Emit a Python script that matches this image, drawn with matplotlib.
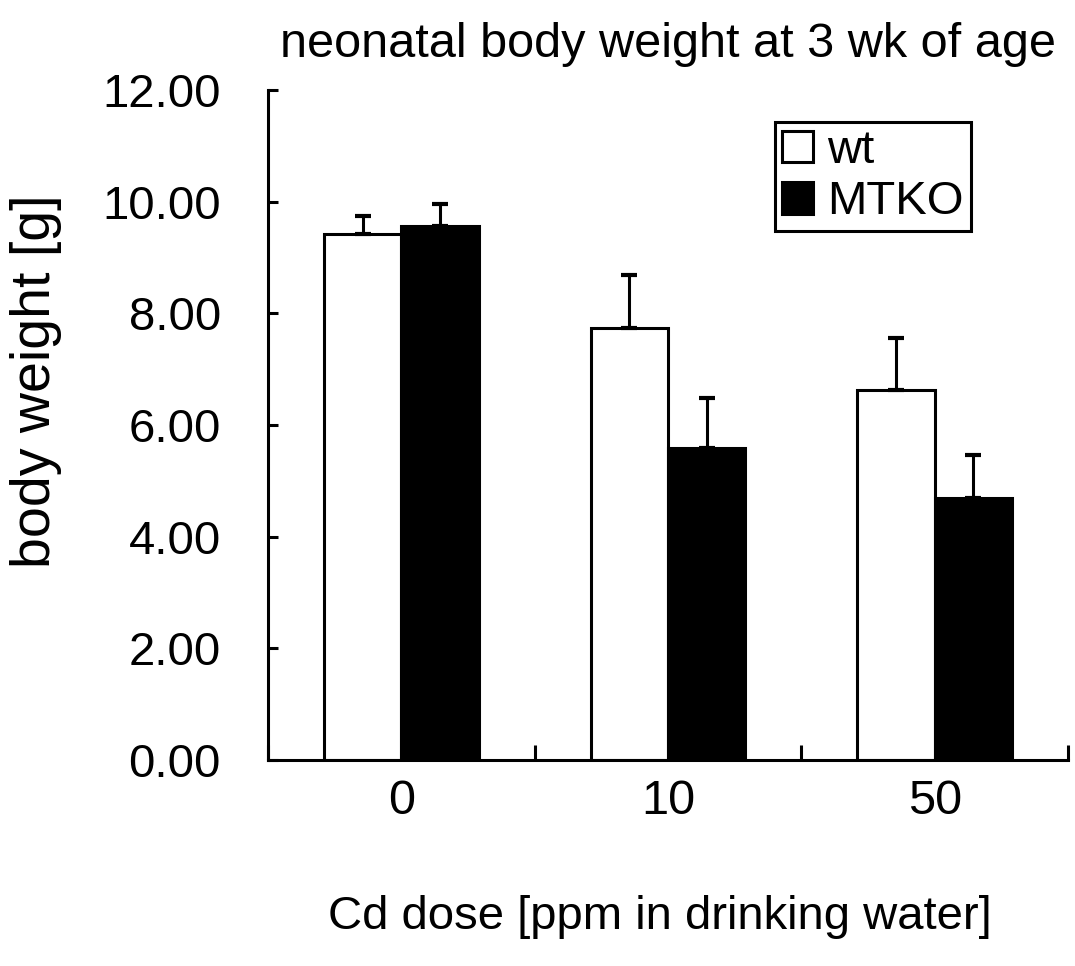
import matplotlib
matplotlib.use('Agg')
import matplotlib.pyplot as plt
from matplotlib.ticker import FixedLocator, FormatStrFormatter
from numpy import arange

plt.rcParams['font.family'] = ['Liberation Sans', 'DejaVu Sans']

doses = ['0', '10', '50']
wt_mean = [9.43, 7.73, 6.62]
wt_err = [0.32, 0.95, 0.94]
ko_mean = [9.56, 5.58, 4.69]
ko_err = [0.40, 0.90, 0.78]

x = arange(len(doses))
width = 0.29

fig = plt.figure(figsize=(10.75, 9.66), dpi=100)
ax = fig.add_axes([0.2493, 0.2133, 0.7442, 0.6935])

err_kw = dict(ecolor='black', elinewidth=2.2, capsize=6, capthick=3)
ax.bar(x - width / 2, wt_mean, width, color='white', edgecolor='black', linewidth=2.2,
       yerr=[[0] * 3, wt_err], error_kw=err_kw, label='wt')
ax.bar(x + width / 2, ko_mean, width, color='black', edgecolor='black', linewidth=2.2,
       yerr=[[0] * 3, ko_err], error_kw=err_kw, label='MTKO')

ax.set_xlim(-0.5, 2.5)
ax.set_ylim(0, 12)
ax.set_yticks(arange(0, 12.01, 2))
ax.yaxis.set_major_formatter(FormatStrFormatter('%.2f'))
ax.set_xticks(x)
ax.set_xticklabels(doses)
ax.xaxis.set_minor_locator(FixedLocator([-0.5, 0.5, 1.5, 2.5]))

ax.spines['top'].set_visible(False)
ax.spines['right'].set_visible(False)
for s in ['left', 'bottom']:
    ax.spines[s].set_linewidth(2.2)

ax.tick_params(axis='y', direction='in', length=7, width=2.2, labelsize=34, pad=34)
ax.tick_params(axis='x', which='major', length=0, labelsize=35, pad=14)
ax.tick_params(axis='x', which='minor', direction='in', length=11, width=2.2)

ax.set_ylabel('body weight [g]', fontsize=40)
ax.yaxis.set_label_coords(-0.258, 0.566)
ax.set_xlabel('Cd dose [ppm in drinking water]', fontsize=34, labelpad=51)
ax.xaxis.label.set_x(0.49)
ax.set_title('neonatal body weight at 3 wk of age', fontsize=35, pad=24)

leg = ax.legend(loc='upper left', bbox_to_anchor=(0.634, 0.952), fontsize=34,
                frameon=True, fancybox=False, edgecolor='black', framealpha=1,
                handlelength=0.65, handleheight=0.65, handletextpad=0.3,
                borderpad=0.15, labelspacing=0.15, borderaxespad=0)
leg.get_frame().set_linewidth(2.2)

fig.savefig('out.png', dpi=100)
